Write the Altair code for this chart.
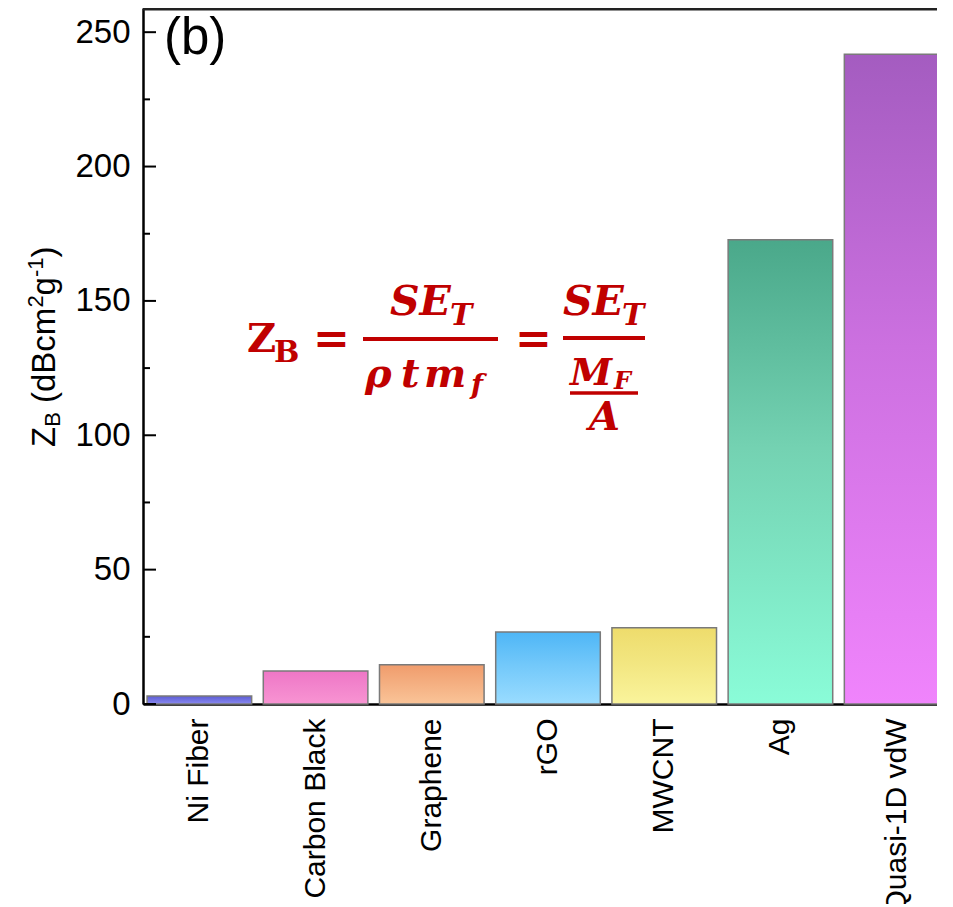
import altair as alt
import pandas as pd

categories = ["Ni Fiber", "Carbon Black", "Graphene", "rGO", "MWCNT", "Ag", "Quasi-1D vdW"]
values = [3.0, 12.3, 14.6, 26.8, 28.4, 172.8, 241.8]
top_colors = ["#5c5cd2", "#ee76c6", "#f09c6c", "#4eb6f6", "#eedc6c", "#4aa88a", "#a45cc0"]
mid_colors = ["#7070e0", "#f284cc", "#f4ae80", "#72c8fa", "#f2e680", "#74d2b2", "#cc70e0"]
bottom_colors = ["#8a8af0", "#f894d2", "#fac498", "#9adcff", "#faf49c", "#8afcd8", "#f084fc"]
major_ticks = [0, 50, 100, 150, 200, 250]
minor_ticks = [25, 75, 125, 175, 225]

RED = "#c00000"
OX, OY = 143, 8  # plot origin on page
RANGE_W = 810    # band range (extends past the visible page edge, as in the reference)
VIEW_W = 794

df = pd.DataFrame({"cat": categories, "val": values})
one = pd.DataFrame({"k": [0]})

xscale = alt.Scale(domain=categories, paddingInner=0.1, paddingOuter=0.035, range=[0, RANGE_W])
yscale = alt.Scale(domain=[0, 259], nice=False, zero=True)

x_axis = alt.Axis(title=None, labelAngle=270, labelFontSize=30, labelPadding=14, labelLimit=0,
                  ticks=False, domainWidth=2.5, domainColor="black",
                  labelColor="black", labelFont="Liberation Sans")
y_axis = alt.Axis(title=None, values=major_ticks, labelFontSize=33, labelPadding=13,
                  ticks=False, grid=False, domainWidth=2.5, domainColor="black",
                  labelColor="black", labelFont="Liberation Sans")

layers = []
for i, c in enumerate(categories):
    grad = {
        "gradient": "linear", "x1": 0, "y1": 0, "x2": 0, "y2": 1,
        "stops": [
            {"offset": 0, "color": top_colors[i]},
            {"offset": 0.45, "color": mid_colors[i]},
            {"offset": 1, "color": bottom_colors[i]},
        ],
    }
    layers.append(
        alt.Chart(df).transform_filter(alt.datum.cat == c)
        .mark_bar(fill=grad, stroke="#7a7a7a", strokeWidth=1.5)
        .encode(x=alt.X("cat:N", scale=xscale, sort=categories, axis=x_axis),
                y=alt.Y("val:Q", scale=yscale, axis=y_axis))
    )

tick_major = alt.Chart(pd.DataFrame({"val": major_ticks})).mark_rule(color="black", strokeWidth=2).encode(
    y=alt.Y("val:Q", scale=yscale, axis=y_axis), x=alt.value(0), x2=alt.value(13))
tick_minor = alt.Chart(pd.DataFrame({"val": minor_ticks})).mark_rule(color="black", strokeWidth=2).encode(
    y=alt.Y("val:Q", scale=yscale, axis=y_axis), x=alt.value(0), x2=alt.value(7))
top_border = alt.Chart(one).mark_rule(color="#222222", strokeWidth=2.5).encode(
    x=alt.value(0), x2=alt.value(RANGE_W), y=alt.value(1.3))
layers += [tick_major, tick_minor, top_border]


def txt(s, x, y, size, font="DejaVu Serif", weight="bold", style="italic", angle=0, color=RED):
    return alt.Chart(one).mark_text(
        text=s, font=font, fontSize=size, fontWeight=weight, fontStyle=style,
        align="left", baseline="alphabetic", angle=angle, color=color
    ).encode(x=alt.value(x - OX), y=alt.value(y - OY))


def bar(x1, x2, y, w=4):
    return alt.Chart(one).mark_rule(color=RED, strokeWidth=w).encode(
        x=alt.value(x1 - OX), x2=alt.value(x2 - OX), y=alt.value(y - OY))


# Formula
layers += [
    txt("Z", 247, 352, 40, style="normal"),
    txt("B", 274, 362, 30, style="normal"),
    txt("=", 313, 354, 44, style="normal"),
    txt("SE", 390, 315, 41),
    txt("T", 450, 325, 30),
    bar(363, 498, 339),
    txt("ρ", 365, 387, 40),
    txt("t", 401, 387, 40),
    txt("m", 424, 387, 40),
    txt("f", 471, 394, 28),
    txt("=", 515, 354, 44, style="normal"),
    txt("SE", 563, 315, 41),
    txt("T", 622, 325, 30),
    bar(563, 645, 338),
    txt("M", 570, 385, 38),
    txt("F", 614, 389, 24),
    bar(570, 638, 393, 3.5),
    txt("A", 589, 430, 40),
]

# Panel label
layers.append(txt("(b)", 164, 54, 51, font="Liberation Sans", weight="normal", style="normal", color="black"))

# Y axis title composed of pieces (rotated)
BX = 55
S = dict(font="Liberation Sans", weight="normal", style="normal", angle=270, color="black")
layers += [
    txt("Z", BX, 447, 33, **S),
    txt("B", BX + 5, 426.8, 22, **S),
    txt("(dBcm", BX, 403, 33, **S),
    txt("2", BX - 12, 307.6, 22, **S),
    txt("g", BX, 295.4, 33, **S),
    txt("-1", BX - 12, 277.1, 22, **S),
    txt(")", BX, 257.5, 33, **S),
]

chart = alt.layer(*layers).properties(
    width=VIEW_W, height=696,
    autosize=alt.AutoSizeParams(type="none"),
    padding={"left": OX - 8, "top": 0, "right": 0, "bottom": 200},
    background="white",
).configure_view(stroke=None)

chart.save("out.html", embed_options={"renderer": "svg", "actions": False})
